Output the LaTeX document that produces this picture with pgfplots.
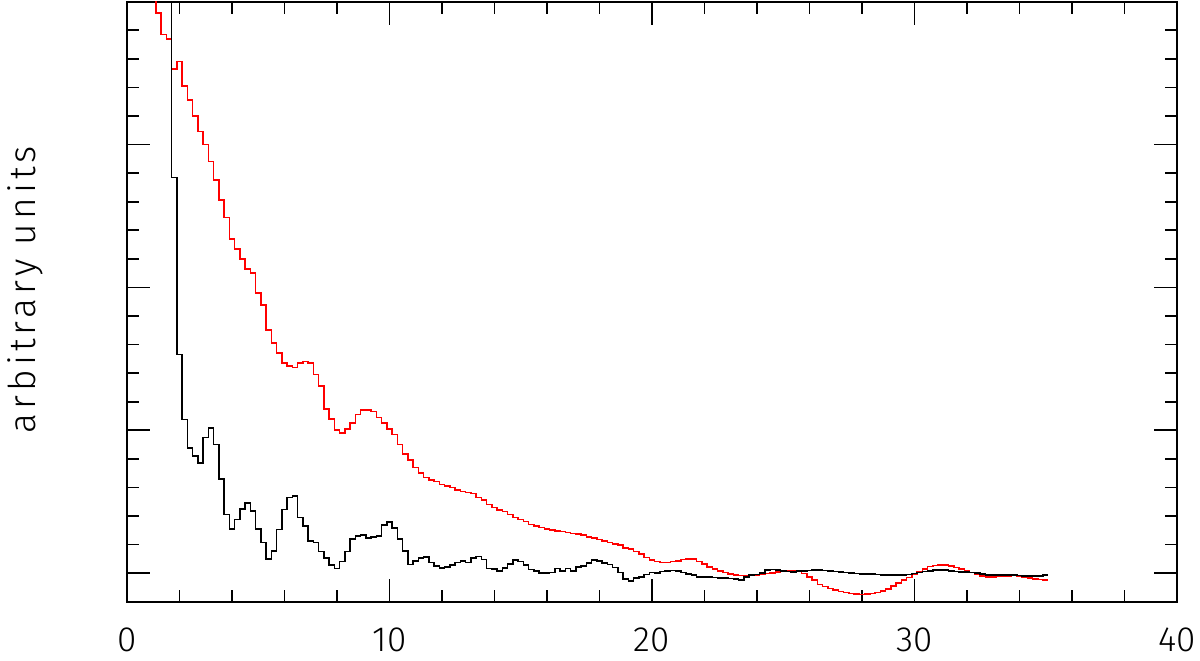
\documentclass[border=0pt]{standalone}
\usepackage{pgfplots}
\pgfplotsset{compat=1.18}
\usepackage{fontspec}
\setmainfont{Fira Sans Light}

% histogram bins, left edges, width 0.2
\pgfplotstableread{
x y
0.5 4.60
0.7 4.40
0.9 4.15
1.1 3.92
1.3 3.77
1.5 3.74
1.7 3.53
1.9 3.58
2.1 3.41
2.3 3.31
2.5 3.20
2.7 3.09
2.9 3.00
3.1 2.88
3.3 2.75
3.5 2.61
3.7 2.49
3.9 2.34
4.1 2.27
4.3 2.20
4.5 2.13
4.7 2.10
4.9 1.96
5.1 1.875
5.3 1.70
5.5 1.61
5.7 1.54
5.9 1.47
6.1 1.45
6.3 1.44
6.5 1.47
6.7 1.48
6.9 1.47
7.1 1.39
7.3 1.31
7.5 1.15
7.7 1.08
7.9 1.00
8.1 0.98
8.3 1.01
8.5 1.05
8.7 1.11
8.9 1.14
9.1 1.14
9.3 1.13
9.5 1.09
9.7 1.05
9.9 1.01
10.1 0.97
10.3 0.90
10.5 0.835
10.7 0.79
10.9 0.74
11.1 0.70
11.3 0.67
11.5 0.65
11.7 0.64
11.9 0.62
12.1 0.61
12.3 0.60
12.5 0.58
12.7 0.57
12.9 0.565
13.1 0.556
13.3 0.53
13.5 0.51
13.7 0.48
13.9 0.46
14.1 0.44
14.3 0.43
14.5 0.41
14.7 0.39
14.9 0.375
15.1 0.36
15.3 0.34
15.5 0.33
15.7 0.32
15.9 0.31
16.1 0.30
16.3 0.293
16.5 0.29
16.7 0.284
16.9 0.277
17.1 0.272
17.3 0.265
17.5 0.253
17.7 0.244
17.9 0.235
18.1 0.225
18.3 0.214
18.5 0.205
18.7 0.195
18.9 0.177
19.1 0.167
19.3 0.15
19.5 0.133
19.7 0.11
19.9 0.09
20.1 0.08
20.3 0.075
20.5 0.075
20.7 0.08
20.9 0.086
21.1 0.095
21.3 0.097
21.5 0.10
21.7 0.08
21.9 0.063
22.1 0.044
22.3 0.028
22.5 0.016
22.7 0.005
22.9 -0.007
23.1 -0.012
23.3 -0.016
23.5 -0.02
23.7 -0.018
23.9 -0.014
24.1 -0.01
24.3 -0.002
24.5 0.002
24.7 0.007
24.9 0.012
25.1 0.016
25.3 0.019
25.5 0.014
25.7 -0.002
25.9 -0.026
26.1 -0.049
26.3 -0.08
26.5 -0.095
26.7 -0.107
26.9 -0.119
27.1 -0.128
27.3 -0.135
27.5 -0.142
27.7 -0.147
27.9 -0.149
28.1 -0.147
28.3 -0.142
28.5 -0.135
28.7 -0.125
28.9 -0.11
29.1 -0.09
29.3 -0.07
29.5 -0.05
29.7 -0.03
29.9 -0.007
30.1 0.012
30.3 0.03
30.5 0.045
30.7 0.054
30.9 0.058
31.1 0.056
31.3 0.049
31.5 0.04
31.7 0.028
31.9 0.016
32.1 0.005
32.3 -0.009
32.5 -0.021
32.7 -0.026
32.9 -0.026
33.1 -0.023
33.3 -0.021
33.5 -0.019
33.7 -0.016
33.9 -0.019
34.1 -0.026
34.3 -0.035
34.5 -0.04
34.7 -0.044
34.9 -0.047
35.1 -0.047
}\redhist

\pgfplotstableread{
x y
1.5 5.0
1.7 2.77
1.9 1.53
2.1 1.075
2.3 0.877
2.5 0.82
2.7 0.77
2.9 0.95
3.1 1.014
3.3 0.90
3.5 0.66
3.7 0.41
3.9 0.307
4.1 0.375
4.3 0.45
4.5 0.49
4.7 0.435
4.9 0.31
5.1 0.214
5.3 0.10
5.5 0.154
5.7 0.305
5.9 0.445
6.1 0.53
6.3 0.54
6.5 0.39
6.7 0.33
6.9 0.225
7.1 0.214
7.3 0.15
7.5 0.107
7.7 0.056
7.9 0.033
8.1 0.08
8.3 0.15
8.5 0.24
8.7 0.26
8.9 0.265
9.1 0.246
9.3 0.253
9.5 0.26
9.7 0.335
9.9 0.356
10.1 0.316
10.3 0.24
10.5 0.156
10.7 0.06
10.9 0.084
11.1 0.107
11.3 0.114
11.5 0.075
11.7 0.049
11.9 0.037
12.1 0.044
12.3 0.056
12.5 0.075
12.7 0.084
12.9 0.075
13.1 0.107
13.3 0.117
13.5 0.095
13.7 0.033
13.9 0.028
14.1 0.016
14.3 0.037
14.5 0.063
14.7 0.09
14.9 0.08
15.1 0.056
15.3 0.026
15.5 0.016
15.7 0.002
15.9 0.002
16.1 0.005
16.3 0.033
16.5 0.016
16.7 0.033
16.9 0.016
17.1 0.044
17.3 0.05
17.5 0.072
17.7 0.09
17.9 0.085
18.1 0.072
18.3 0.06
18.5 0.04
18.7 0.005
18.9 -0.042
19.1 -0.056
19.3 -0.033
19.5 -0.026
19.7 -0.009
19.9 0.005
20.1 0.002
20.3 0.012
20.5 0.016
20.7 0.019
20.9 0.016
21.1 0.005
21.3 -0.006
21.5 -0.014
21.7 -0.026
21.9 -0.026
22.1 -0.028
22.3 -0.03
22.5 -0.033
22.7 -0.035
22.9 -0.037
23.1 -0.042
23.3 -0.049
23.5 -0.026
23.7 -0.014
23.9 -0.01
24.1 0.002
24.3 0.021
24.5 0.026
24.7 0.021
24.9 0.016
25.1 0.012
25.3 0.009
25.5 0.014
25.7 0.016
25.9 0.019
26.1 0.021
26.3 0.021
26.5 0.019
26.7 0.016
26.9 0.012
27.1 0.007
27.3 0.005
27.5 0.002
27.7 -0.002
27.9 -0.005
28.1 -0.007
28.3 -0.007
28.5 -0.01
28.7 -0.012
28.9 -0.012
29.1 -0.012
29.3 -0.012
29.5 -0.012
29.7 -0.01
29.9 -0.002
30.1 0.005
30.3 0.012
30.5 0.016
30.7 0.021
30.9 0.023
31.1 0.021
31.3 0.016
31.5 0.012
31.7 0.009
31.9 0.007
32.1 0.005
32.3 0.0
32.5 -0.007
32.7 -0.014
32.9 -0.014
33.1 -0.014
33.3 -0.014
33.5 -0.014
33.7 -0.014
33.9 -0.016
34.1 -0.019
34.3 -0.021
34.5 -0.021
34.7 -0.019
34.9 -0.014
35.1 -0.014
}\blackhist

\begin{document}
\begin{tikzpicture}
\begin{axis}[
  name=ax,
  scale only axis,
  width=525pt, height=300pt,
  xmin=0, xmax=40, ymin=-0.2, ymax=4,
  xtick={0,10,20,30,40},
  ytick={0,1,2,3,4},
  yticklabels={},
  minor x tick num=4,
  minor y tick num=4,
  tick align=inside,
  major tick length=11.5pt,
  minor tick length=6pt,
  axis line style={line width=0.9pt},
  every tick/.style={black, line width=0.9pt},
  /pgf/number format/assume math mode=true,
  xticklabel style={font=\fontsize{17.5}{19}\selectfont, inner sep=0pt, yshift=-13pt},
  ylabel={arbitrary units},
  ylabel style={font=\fontsize{18.5}{20}\selectfont\addfontfeatures{LetterSpace=11},
    at={(axis description cs:-0.08,0.52)},
    rotate=0, anchor=south, inner sep=0pt},
]
\addplot[const plot, red, line width=0.8pt] table {\redhist};
\addplot[const plot, black, line width=0.8pt] table {\blackhist};
\end{axis}
\pgfresetboundingbox
\path[use as bounding box] ([xshift=-63.5pt, yshift=-29.65pt]ax.south west)
  rectangle ([xshift=11.5pt, yshift=0.85pt]ax.north east);
\end{tikzpicture}
\end{document}
